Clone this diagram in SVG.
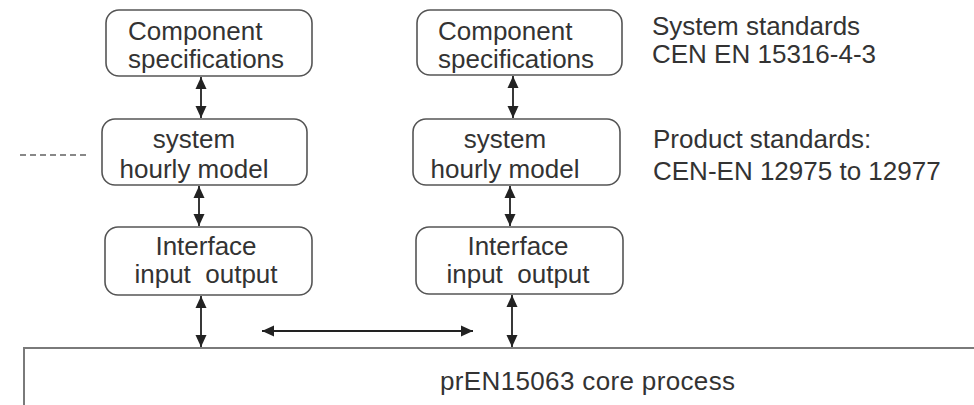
<svg xmlns="http://www.w3.org/2000/svg" width="974" height="405" viewBox="0 0 974 405">
<style>
.box{fill:#fff;stroke:#555;stroke-width:1.6}
.core{fill:#fff;stroke:#7a7a7a;stroke-width:2}
.t{font-family:"Liberation Sans",Arial,sans-serif;font-size:26px;fill:#333;white-space:pre}
.c{text-anchor:middle}
.ln{stroke:#222;stroke-width:1.8;fill:none}
.dash{stroke:#888;stroke-width:2;stroke-dasharray:6 4;fill:none}
</style>
<defs>
<marker id="ah" viewBox="0 0 12 12" refX="12" refY="6" markerWidth="12" markerHeight="12" markerUnits="userSpaceOnUse" orient="auto-start-reverse">
<path d="M0,0.5 L12,6 L0,11.5 z" fill="#222"/>
</marker>
</defs>
<g id="core">
<rect class="core" x="24" y="348" width="960" height="80"/>
<text class="t" x="440" y="390" textLength="295">prEN15063 core process</text>
</g>
<g id="comp-left">
<rect class="box" x="106" y="10" width="206" height="66" rx="13"/>
<text class="t" x="128" y="40">Component</text>
<text class="t" x="128" y="68">specifications</text>
</g>
<g id="comp-right">
<rect class="box" x="417" y="10" width="205" height="65" rx="13"/>
<text class="t" x="438" y="40">Component</text>
<text class="t" x="438" y="68">specifications</text>
</g>
<g id="model-left">
<rect class="box" x="102" y="119" width="205" height="66" rx="13"/>
<text class="t c" x="194" y="148">system</text>
<text class="t c" x="194" y="178">hourly model</text>
</g>
<g id="model-right">
<rect class="box" x="413" y="119" width="207" height="66" rx="13"/>
<text class="t c" x="505" y="148">system</text>
<text class="t c" x="505" y="178">hourly model</text>
</g>
<g id="iface-left">
<rect class="box" x="105" y="227" width="207" height="68" rx="13"/>
<text class="t c" x="206" y="255">Interface</text>
<text class="t c" x="206" y="283">input  output</text>
</g>
<g id="iface-right">
<rect class="box" x="416" y="227" width="207" height="67" rx="13"/>
<text class="t c" x="518" y="255">Interface</text>
<text class="t c" x="518" y="283">input  output</text>
</g>
<g id="labels">
<text class="t" x="652" y="35">System standards</text>
<text class="t" x="652" y="63">CEN EN 15316-4-3</text>
<text class="t" x="653" y="148">Product standards:</text>
<text class="t" x="653" y="180">CEN-EN 12975 to 12977</text>
</g>
<g id="connectors">
<line class="ln" x1="201" y1="77" x2="201" y2="118" marker-start="url(#ah)" marker-end="url(#ah)"/>
<line class="ln" x1="513" y1="76" x2="513" y2="118" marker-start="url(#ah)" marker-end="url(#ah)"/>
<line class="ln" x1="199" y1="186" x2="199" y2="226" marker-start="url(#ah)" marker-end="url(#ah)"/>
<line class="ln" x1="510" y1="186" x2="510" y2="226" marker-start="url(#ah)" marker-end="url(#ah)"/>
<line class="ln" x1="201" y1="296" x2="201" y2="347" marker-start="url(#ah)" marker-end="url(#ah)"/>
<line class="ln" x1="512" y1="295" x2="512" y2="347" marker-start="url(#ah)" marker-end="url(#ah)"/>
<line class="ln" x1="262" y1="331" x2="473" y2="331" marker-start="url(#ah)" marker-end="url(#ah)"/>
<line class="dash" x1="20" y1="155" x2="88" y2="155"/>
</g>
</svg>
